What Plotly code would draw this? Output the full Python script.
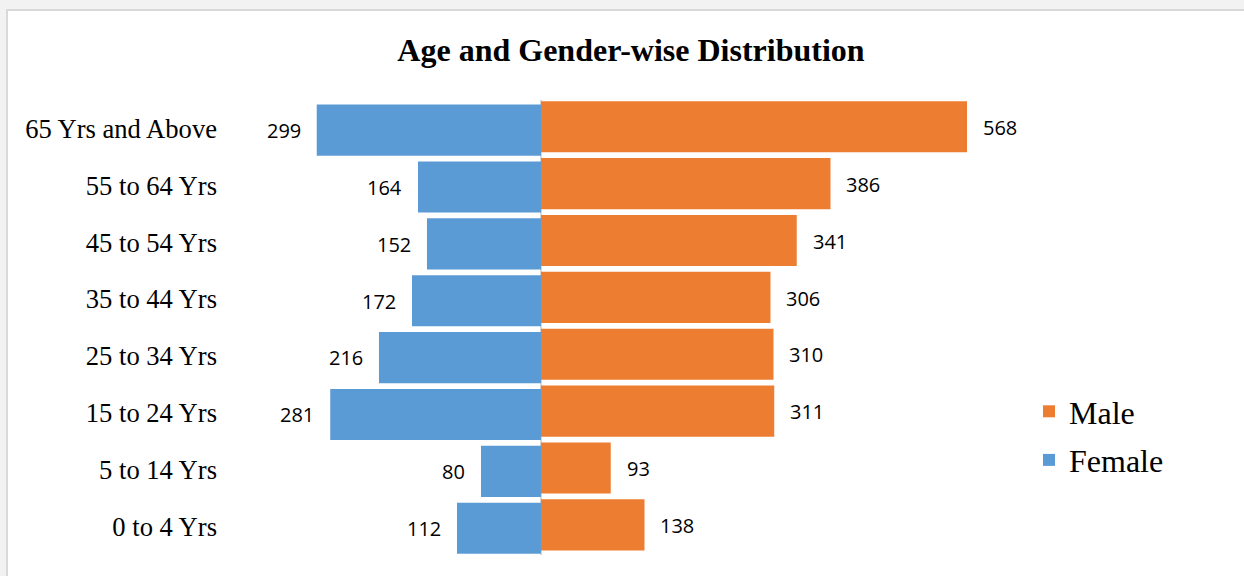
import plotly.graph_objects as go

categories = ["0 to 4 Yrs", "5 to 14 Yrs", "15 to 24 Yrs", "25 to 34 Yrs",
              "35 to 44 Yrs", "45 to 54 Yrs", "55 to 64 Yrs", "65 Yrs and Above"]
male = [138, 93, 311, 310, 306, 341, 386, 568]
female = [112, 80, 281, 216, 172, 152, 164, 299]

MALE_C = "#ED7D31"
FEMALE_C = "#5B9BD5"
SERIF = "Liberation Serif, Times New Roman, serif"
SANS = "Open Sans, Liberation Sans, sans-serif"

W, H = 1244, 576
L, R, T, B = 228, 214, 100, 21
PW = W - L - R
PH = H - T - B

fig = go.Figure()
fig.add_trace(go.Bar(
    y=categories, x=male, orientation="h", name="Male",
    marker=dict(color=MALE_C, line=dict(width=0)),
    width=0.9, offset=-0.42, legendgroup="m", hoverinfo="x+y",
))
fig.add_trace(go.Bar(
    y=categories, x=[-v for v in female], orientation="h", name="Female",
    marker=dict(color=FEMALE_C, line=dict(width=0)),
    width=0.9, offset=-0.48, legendgroup="f",
    customdata=female, hovertemplate="%{y}: %{customdata}<extra>Female</extra>",
))

annotations = []
for c, m, f in zip(categories, male, female):
    annotations.append(dict(x=m, y=c, xref="x", yref="y", text=str(m), showarrow=False,
                            xanchor="left", xshift=14, yshift=1,
                            font=dict(family=SANS, size=20, color="#000000")))
    annotations.append(dict(x=-f, y=c, xref="x", yref="y", text=str(f), showarrow=False,
                            xanchor="right", xshift=-14, yshift=-2,
                            font=dict(family=SANS, size=20, color="#000000")))

def px_x(px):
    return (px - L) / PW

def px_y(py):
    return 1 - (py - T) / PH

shapes = [dict(type="rect", xref="paper", yref="paper", layer="below",
               x0=px_x(7), x1=px_x(1250), y0=px_y(600), y1=px_y(10),
               fillcolor="#FFFFFF", line=dict(color="#D9D9D9", width=2))]

fig.update_layout(
    width=W, height=H,
    margin=dict(l=L, r=R, t=T, b=B),
    paper_bgcolor="#F2F2F2",
    plot_bgcolor="rgba(0,0,0,0)",
    barmode="overlay",
    title=dict(text="<b>Age and Gender-wise Distribution</b>",
               x=631 / W, xref="container", xanchor="center",
               y=1 - 50 / H, yref="container", yanchor="middle",
               font=dict(family=SERIF, size=32, color="#000000")),
    xaxis=dict(range=[-417.3, 652], showticklabels=False, showgrid=False,
               zeroline=True, zerolinecolor="#D9D9D9", zerolinewidth=2,
               fixedrange=True),
    yaxis=dict(categoryorder="array", categoryarray=categories, showgrid=False,
               zeroline=False, ticks="", ticklabelstandoff=10,
               tickfont=dict(family=SERIF, size=26.6, color="#000000")),
    legend=dict(x=px_x(1029), y=px_y(384), xanchor="left", yanchor="top",
                traceorder="grouped", tracegroupgap=4,
                font=dict(family=SERIF, size=32, color="#000000"),
                bgcolor="rgba(0,0,0,0)"),
    annotations=annotations,
    shapes=shapes,
    showlegend=True,
)

fig.write_html("out.html", config={"displayModeBar": False}, post_script=(
    "document.body.style.margin='0';"
    "document.body.style.padding='0';"
    "document.body.style.background='#F2F2F2';"
))
